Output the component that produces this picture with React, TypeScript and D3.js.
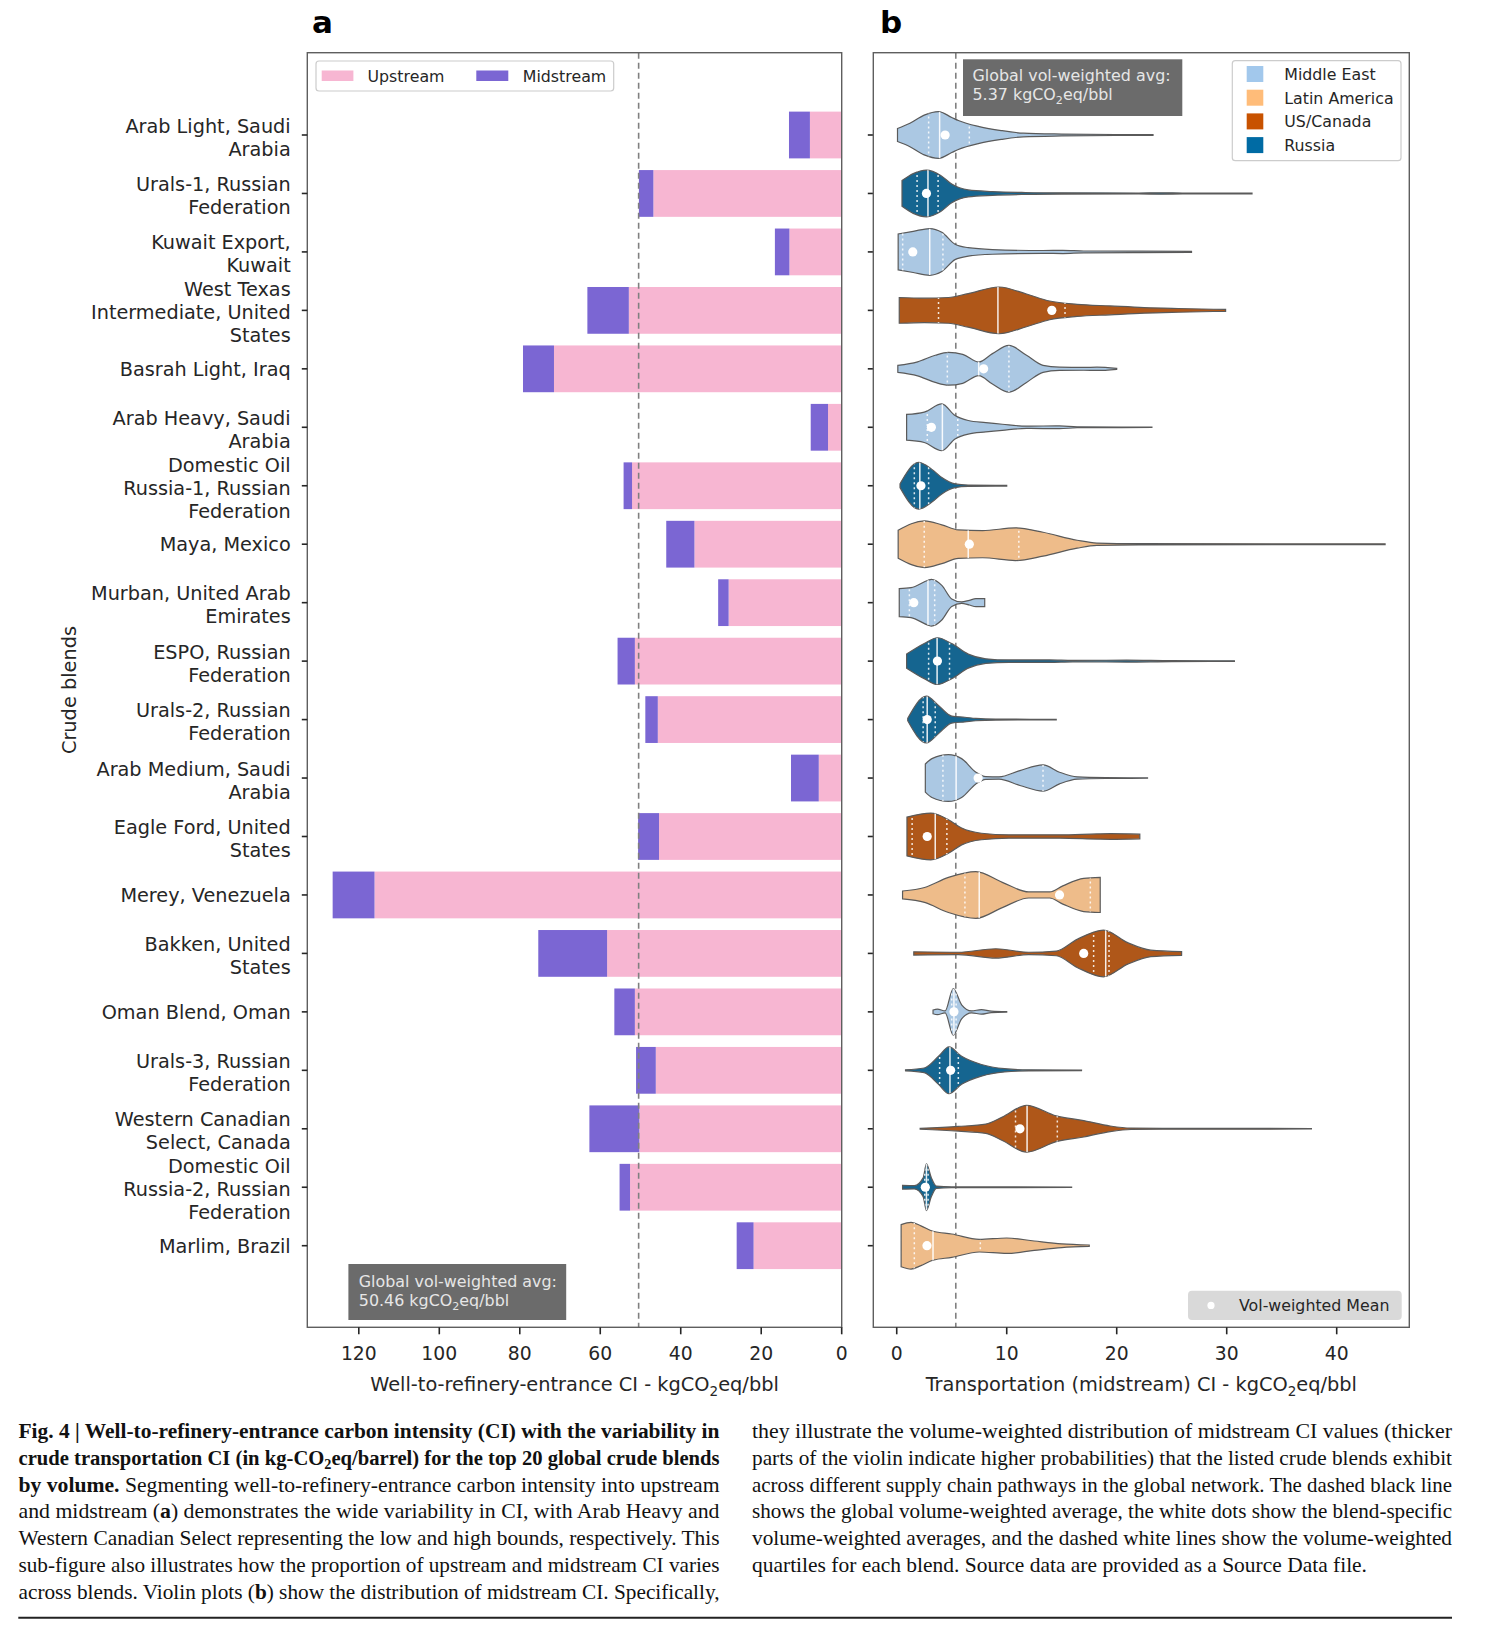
import React from 'react';
import * as d3 from 'd3';

// ---- data ----
const blends = [
  'Arab Light', 'Urals-1', 'Kuwait Export', 'West Texas Intermediate', 'Basrah Light',
  'Arab Heavy', 'Domestic Oil Russia-1', 'Maya', 'Murban', 'ESPO',
  'Urals-2', 'Arab Medium', 'Eagle Ford', 'Merey', 'Bakken',
  'Oman Blend', 'Urals-3', 'Western Canadian Select', 'Domestic Oil Russia-2', 'Marlim',
];

const blendLabels = [
  ['Arab Light, Saudi', 'Arabia'],
  ['Urals-1, Russian', 'Federation'],
  ['Kuwait Export,', 'Kuwait'],
  ['West Texas', 'Intermediate, United', 'States'],
  ['Basrah Light, Iraq'],
  ['Arab Heavy, Saudi', 'Arabia'],
  ['Domestic Oil', 'Russia-1, Russian', 'Federation'],
  ['Maya, Mexico'],
  ['Murban, United Arab', 'Emirates'],
  ['ESPO, Russian', 'Federation'],
  ['Urals-2, Russian', 'Federation'],
  ['Arab Medium, Saudi', 'Arabia'],
  ['Eagle Ford, United', 'States'],
  ['Merey, Venezuela'],
  ['Bakken, United', 'States'],
  ['Oman Blend, Oman'],
  ['Urals-3, Russian', 'Federation'],
  ['Western Canadian', 'Select, Canada'],
  ['Domestic Oil', 'Russia-2, Russian', 'Federation'],
  ['Marlim, Brazil'],
];

// 0 Middle East, 1 Latin America, 2 US/Canada, 3 Russia
const blendRegion = [0, 3, 0, 2, 0, 0, 3, 1, 0, 3, 3, 0, 2, 1, 2, 0, 3, 2, 3, 1];

const upstreamCI = [7.9, 46.8, 13.0, 52.9, 71.5, 3.4, 52.1, 36.6, 28.1, 51.4, 45.7, 5.7, 45.4, 116.1, 58.3, 51.4, 46.2, 50.3, 52.6, 21.9];
const midstreamCI = [5.2, 3.6, 3.6, 10.3, 7.7, 4.3, 2.1, 7.0, 2.6, 4.3, 3.1, 6.9, 5.2, 10.4, 17.1, 5.1, 4.9, 12.4, 2.6, 4.2];

const globalAvgTotal = 50.46;
const globalAvgMidstream = 5.37;

const regionNames = ['Middle East', 'Latin America', 'US/Canada', 'Russia'];
const regionLegendColors = ['#a2c8ec', '#ffbc79', '#c85200', '#006ba4'];
const regionViolinColors = ['#abc8e3', '#eebc8a', '#af5719', '#156590'];

// violin statistics (kgCO2eq/bbl)
const violinQ1 = [2.9, 1.85, 0.54, 3.8, 4.6, 2.78, 1.6, 2.5, 1.15, 2.9, 2.4, 4.2, 1.4, 6.2, 17.9, 5.0, 3.9, 10.8, 2.55, 1.6];
const violinMedian = [3.9, 2.84, 3.0, 9.2, 7.45, 4.15, 2.1, 6.5, 2.84, 3.67, 2.77, 5.4, 3.5, 7.5, 19.0, 5.2, 4.84, 11.85, 2.7, 3.3];
const violinQ3 = [6.6, 3.76, 4.2, 15.3, 10.2, 5.55, 2.9, 11.1, 3.45, 4.8, 3.5, 13.3, 4.56, 17.6, 19.3, 5.4, 5.6, 14.6, 2.85, 7.6];
const violinMean = [4.4, 2.7, 1.46, 14.1, 7.9, 3.15, 2.2, 6.6, 1.55, 3.7, 2.77, 7.4, 2.77, 14.8, 17.0, 5.2, 4.9, 11.2, 2.6, 2.75];

// violin outlines: [CI value, relative half-width]
const violinProfiles: [number, number][][] = [
  [[0.07, 0.28], [1.2, 0.5], [2.5, 0.85], [3.8, 1.0], [5.0, 0.75], [5.6, 0.62], [7.5, 0.36], [9.5, 0.19], [11.5, 0.08], [15, 0.04], [20, 0.02], [23.3, 0.015]],
  [[0.48, 0.55], [1.5, 0.85], [2.7, 1.0], [4.0, 0.77], [5.0, 0.4], [6.5, 0.15], [8.7, 0.08], [11.7, 0.04], [15, 0.025], [22, 0.02], [24, 0.03], [26, 0.02], [32.3, 0.015]],
  [[0.13, 0.77], [1.5, 0.88], [3.0, 1.0], [4.1, 0.84], [5.3, 0.33], [6.5, 0.18], [8.7, 0.1], [13.3, 0.06], [15.1, 0.07], [17, 0.04], [22, 0.03], [26.8, 0.02]],
  [[0.23, 0.55], [2.5, 0.52], [4.7, 0.55], [6.5, 0.72], [9.3, 1.0], [11.8, 0.7], [13.9, 0.4], [16.4, 0.26], [19.4, 0.19], [22.5, 0.12], [25.6, 0.08], [29.9, 0.04]],
  [[0.1, 0.15], [1.9, 0.3], [3.5, 0.58], [4.7, 0.7], [6.0, 0.62], [7.45, 0.29], [8.7, 0.65], [10.2, 1.0], [11.8, 0.58], [13.3, 0.15], [14.8, 0.07], [17, 0.06], [18.2, 0.07], [20, 0.02]],
  [[0.9, 0.55], [2.5, 0.65], [4.1, 1.0], [5.3, 0.5], [6.5, 0.29], [8.1, 0.2], [9.6, 0.13], [11.8, 0.05], [14.8, 0.06], [16.4, 0.02], [23.2, 0.01]],
  [[0.3, 0.08], [1.98, 1.0], [3.2, 0.7], [4.1, 0.35], [5.3, 0.08], [6.5, 0.03], [10, 0.015]],
  [[0.13, 0.6], [2.53, 1.0], [4.1, 0.83], [5.6, 0.61], [7.8, 0.58], [10.8, 0.7], [13.3, 0.51], [16.4, 0.17], [18.2, 0.05], [22, 0.025], [44.4, 0.015]],
  [[0.23, 0.6], [1.3, 0.64], [2.85, 0.96], [3.15, 1.0], [4.1, 0.74], [5.0, 0.16], [5.9, 0.03], [6.6, 0.1], [7.2, 0.17], [8.0, 0.17]],
  [[0.9, 0.3], [2.5, 0.75], [3.7, 1.0], [5.0, 0.75], [6.5, 0.3], [8.1, 0.1], [10.2, 0.05], [13.9, 0.05], [16, 0.03], [20.9, 0.04], [25, 0.02], [30.7, 0.015]],
  [[1.0, 0.05], [2.7, 1.0], [3.8, 0.6], [5.0, 0.15], [6.2, 0.1], [7.2, 0.05], [9, 0.02], [14.5, 0.01]],
  [[2.6, 0.6], [3.2, 0.83], [4.7, 1.0], [5.9, 0.83], [7.2, 0.25], [8.1, 0.06], [9.3, 0.05], [11.2, 0.32], [13.3, 0.56], [14.8, 0.25], [16.4, 0.05], [19, 0.02], [22.8, 0.01]],
  [[0.93, 0.83], [3.1, 1.0], [4.7, 0.72], [5.9, 0.36], [7.7, 0.14], [10.2, 0.07], [14.8, 0.07], [18.2, 0.11], [19.4, 0.12], [22.1, 0.1]],
  [[0.53, 0.17], [2.53, 0.32], [4.7, 0.75], [7.2, 1.0], [9.6, 0.54], [12, 0.13], [13.9, 0.13], [15.1, 0.39], [17, 0.71], [18.5, 0.75]],
  [[1.55, 0.07], [5.6, 0.05], [9.0, 0.2], [12, 0.05], [14.5, 0.1], [16.4, 0.6], [18.8, 1.0], [21, 0.46], [23.1, 0.14], [25.9, 0.08]],
  [[3.3, 0.08], [3.7, 0.12], [4.4, 0.04], [5.14, 1.0], [5.9, 0.3], [6.8, 0.04], [7.7, 0.1], [8.6, 0.03], [10, 0.01]],
  [[0.8, 0.02], [2.5, 0.1], [3.8, 0.6], [4.75, 1.0], [5.9, 0.6], [7.7, 0.25], [9.8, 0.07], [12, 0.02], [16.8, 0.01]],
  [[2.13, 0.02], [5.6, 0.1], [8.1, 0.2], [9.6, 0.5], [11.8, 1.0], [14.5, 0.55], [17, 0.35], [19.4, 0.12], [21.3, 0.03], [26, 0.015], [31.5, 0.02], [37.7, 0.01]],
  [[0.53, 0.08], [1.6, 0.07], [2.4, 0.4], [2.7, 1.0], [3.15, 0.4], [3.6, 0.05], [5, 0.015], [15.9, 0.01]],
  [[0.4, 0.9], [1.3, 1.0], [2.2, 0.85], [3.3, 0.62], [5, 0.5], [7.5, 0.27], [10, 0.33], [12.5, 0.2], [15, 0.08], [17.5, 0.03]],
];

const leftTicks = [120, 100, 80, 60, 40, 20, 0];
const rightTicks = [0, 10, 20, 30, 40];

type Part = { t: string; b?: boolean; sub?: boolean };

const captionLeft: Part[][] = [
  [{ t: 'Fig. 4 | Well-to-refinery-entrance carbon intensity (CI) with the variability in', b: true }],
  [{ t: 'crude transportation CI (in kg-CO', b: true }, { t: '2', b: true, sub: true }, { t: 'eq/barrel) for the top 20 global crude blends', b: true }],
  [{ t: 'by volume.', b: true }, { t: ' Segmenting well-to-refinery-entrance carbon intensity into upstream' }],
  [{ t: 'and midstream (' }, { t: 'a', b: true }, { t: ') demonstrates the wide variability in CI, with Arab Heavy and' }],
  [{ t: 'Western Canadian Select representing the low and high bounds, respectively. This' }],
  [{ t: 'sub-figure also illustrates how the proportion of upstream and midstream CI varies' }],
  [{ t: 'across blends. Violin plots (' }, { t: 'b', b: true }, { t: ') show the distribution of midstream CI. Specifically,' }],
];
const captionRight: Part[][] = [
  [{ t: 'they illustrate the volume-weighted distribution of midstream CI values (thicker' }],
  [{ t: 'parts of the violin indicate higher probabilities) that the listed crude blends exhibit' }],
  [{ t: 'across different supply chain pathways in the global network. The dashed black line' }],
  [{ t: 'shows the global volume-weighted average, the white dots show the blend-specific' }],
  [{ t: 'volume-weighted averages, and the dashed white lines show the volume-weighted' }],
  [{ t: 'quartiles for each blend. Source data are provided as a Source Data file.' }],
];
const captionRightWidths = [700, 700, 700, 700, 700, 615];

// ---- layout ----
const W = 1488;
const H = 1627;
const TOP = 52.7;
const BOTTOM = 1327.3;
const L = { x0: 307.3, x1: 841.7 };
const R = { x0: 873.3, x1: 1409.3 };
const FONT = '"DejaVu Sans", sans-serif';
const SERIF = '"Liberation Serif", serif';
const INK = '#262626';
const FRAME = '#5e5e5e';
const PINK = '#f7b6d2';
const PURPLE = '#7b66d3';

const xL = d3.scaleLinear().domain([132.8, 0]).range([L.x0, L.x1]);
const xR = d3.scaleLinear().domain([-2.13, 46.6]).range([R.x0, R.x1]);
const yPos = d3.scalePoint<string>().domain(blends).range([135, 1245.7]);
const step = yPos.step();
const barH = step * 0.8;
const halfMax = step * 0.4;

const Units = ({ size }: { size: number }) => (
  <>
    <tspan>kgCO</tspan>
    <tspan fontSize={size * 0.7} dy={size * 0.25}>2</tspan>
    <tspan dy={-size * 0.25}>eq/bbl</tspan>
  </>
);

const violinArea = (cy: number) =>
  d3.area<[number, number]>()
    .x(d => xR(d[0]))
    .y0(d => cy - d[1] * halfMax)
    .y1(d => cy + d[1] * halfMax)
    .curve(d3.curveMonotoneX);

const CaptionLine = ({ parts, x, y, len }: { parts: Part[]; x: number; y: number; len: number }) => (
  <text x={x} y={y} textLength={len} lengthAdjust="spacingAndGlyphs">
    {parts.map((p, j) => {
      const prevSub = j > 0 && parts[j - 1].sub;
      return (
        <tspan key={j} fontWeight={p.b ? 'bold' : 'normal'} fontSize={p.sub ? 14 : undefined} dy={p.sub ? 4 : prevSub ? -4 : 0}>{p.t}</tspan>
      );
    })}
  </text>
);

const App: React.FC = () => {
  const labFs = 19.25;
  const numFs = 18.8;
  const axFs = 19.35;
  const legFs = 15.8;
  const boxFs = 15.9;

  return (
    <svg width={W} height={H} style={{ position: 'absolute', left: 0, top: 0, background: '#fff' }} fontFamily={FONT}>
      <defs>
        {blends.map((b, i) => (
          <clipPath id={`vclip${i}`} key={b}>
            <path d={violinArea(yPos(b)!)(violinProfiles[i]) || ''} />
          </clipPath>
        ))}
      </defs>

      {/* panel labels */}
      <text x={312} y={33} fontSize={31} fontWeight="bold" fill="#000">a</text>
      <text x={880} y={33} fontSize={31} fontWeight="bold" fill="#000">b</text>

      {/* ---- panel a ---- */}
      <g>
        {blends.map((b, i) => {
          const cy = yPos(b)!;
          const u = upstreamCI[i];
          const tot = u + midstreamCI[i];
          return (
            <g key={b}>
              <rect x={xL(u)} y={cy - barH / 2} width={xL(0) - xL(u)} height={barH} fill={PINK} />
              <rect x={xL(tot)} y={cy - barH / 2} width={xL(u) - xL(tot)} height={barH} fill={PURPLE} />
            </g>
          );
        })}
        <line x1={xL(globalAvgTotal)} x2={xL(globalAvgTotal)} y1={TOP} y2={BOTTOM} stroke="#808080" strokeWidth={1.6} strokeDasharray="6,4" />
        <rect x={L.x0} y={TOP} width={L.x1 - L.x0} height={BOTTOM - TOP} fill="none" stroke={FRAME} strokeWidth={1.4} />

        {/* y ticks + labels */}
        {blends.map((b, i) => {
          const cy = yPos(b)!;
          const lines = blendLabels[i];
          const n = lines.length;
          const off = n > 1 ? 2 : 0;
          return (
            <g key={b}>
              <line x1={L.x0 - 5.5} x2={L.x0} y1={cy} y2={cy} stroke={INK} strokeWidth={1.6} />
              <text textAnchor="end" fontSize={labFs} fill={INK}>
                {lines.map((ln, k) => (
                  <tspan key={k} x={290.7} y={cy + off + (k - (n - 1) / 2) * 23 + 7}>{ln}</tspan>
                ))}
              </text>
            </g>
          );
        })}

        {/* x axis */}
        {leftTicks.map(t => (
          <g key={t}>
            <line x1={xL(t)} x2={xL(t)} y1={BOTTOM} y2={BOTTOM + 7} stroke={INK} strokeWidth={1.6} />
            <text x={xL(t)} y={1359.5} textAnchor="middle" fontSize={numFs} fill={INK}>{t}</text>
          </g>
        ))}
        <text x={(L.x0 + L.x1) / 2} y={1391} textAnchor="middle" fontSize={axFs} fill={INK}>
          Well-to-refinery-entrance CI - <Units size={axFs} />
        </text>
        <text transform={`translate(76,${(TOP + BOTTOM) / 2}) rotate(-90)`} textAnchor="middle" fontSize={axFs} fill={INK}>Crude blends</text>

        {/* legend */}
        <rect x={316} y={61} width={297.7} height={30} rx={3} fill="#fff" stroke="#cccccc" strokeWidth={1.2} />
        <rect x={321.7} y={70.5} width={31.7} height={10.5} fill={PINK} />
        <text x={367.5} y={81.5} fontSize={legFs} fill={INK}>Upstream</text>
        <rect x={476.3} y={70.5} width={32} height={10.5} fill={PURPLE} />
        <text x={522.8} y={81.5} fontSize={legFs} fill={INK}>Midstream</text>

        {/* global average box */}
        <rect x={348.4} y={1264} width={217.8} height={56} fill="#6b6b6b" />
        <text x={358.8} y={1287} fontSize={boxFs} fill="#e6e6e6">Global vol-weighted avg:</text>
        <text x={358.8} y={1306.3} fontSize={boxFs} fill="#e6e6e6">50.46 <Units size={boxFs} /></text>
      </g>

      {/* ---- panel b ---- */}
      <g>
        <line x1={xR(globalAvgMidstream)} x2={xR(globalAvgMidstream)} y1={TOP} y2={BOTTOM} stroke="#808080" strokeWidth={1.6} strokeDasharray="6,4" />
        {blends.map((b, i) => {
          const cy = yPos(b)!;
          const prof = violinProfiles[i];
          const color = regionViolinColors[blendRegion[i]];
          return (
            <g key={b}>
              <path d={violinArea(cy)(prof) || ''} fill={color} stroke="#5a5a5a" strokeWidth={1.2} />
              <g clipPath={`url(#vclip${i})`}>
                <line x1={xR(violinMedian[i])} x2={xR(violinMedian[i])} y1={cy - halfMax} y2={cy + halfMax} stroke="#ffffff" strokeWidth={1.5} opacity={0.9} />
                {[violinQ1[i], violinQ3[i]].map((q, k) => (
                  <line key={k} x1={xR(q)} x2={xR(q)} y1={cy - halfMax} y2={cy + halfMax} stroke="#ffffff" strokeWidth={1.5} strokeDasharray="2,3" opacity={0.85} />
                ))}
              </g>
              <circle cx={xR(violinMean[i])} cy={cy} r={4.6} fill="#ffffff" />
              <line x1={R.x0 - 5.5} x2={R.x0} y1={cy} y2={cy} stroke={INK} strokeWidth={1.6} />
            </g>
          );
        })}
        <rect x={R.x0} y={TOP} width={R.x1 - R.x0} height={BOTTOM - TOP} fill="none" stroke={FRAME} strokeWidth={1.4} />

        {rightTicks.map(t => (
          <g key={t}>
            <line x1={xR(t)} x2={xR(t)} y1={BOTTOM} y2={BOTTOM + 7} stroke={INK} strokeWidth={1.6} />
            <text x={xR(t)} y={1359.5} textAnchor="middle" fontSize={numFs} fill={INK}>{t}</text>
          </g>
        ))}
        <text x={(R.x0 + R.x1) / 2} y={1391} textAnchor="middle" fontSize={axFs} fill={INK}>
          Transportation (midstream) CI - <Units size={axFs} />
        </text>

        {/* global average box */}
        <rect x={963} y={59.3} width={219.3} height={56.7} fill="#6b6b6b" />
        <text x={972.5} y={80.5} fontSize={boxFs} fill="#e6e6e6">Global vol-weighted avg:</text>
        <text x={972.5} y={99.7} fontSize={boxFs} fill="#e6e6e6">5.37 <Units size={boxFs} /></text>

        {/* region legend */}
        <rect x={1232.3} y={60.7} width={168.7} height={100} rx={3} fill="#fff" stroke="#cccccc" strokeWidth={1.2} />
        {regionNames.map((r, k) => {
          const cy = 74 + k * 23.7;
          return (
            <g key={r}>
              <rect x={1246.7} y={cy - 8} width={16.6} height={16} fill={regionLegendColors[k]} />
              <text x={1284.3} y={cy + 5.8} fontSize={legFs} fill={INK}>{r}</text>
            </g>
          );
        })}

        {/* mean legend */}
        <rect x={1188} y={1290.7} width={213.7} height={29.3} rx={4} fill="#d9d9d9" />
        <circle cx={1211} cy={1305.4} r={3.6} fill="#ffffff" />
        <text x={1239} y={1311.2} fontSize={legFs} fill={INK}>Vol-weighted Mean</text>
      </g>

      {/* ---- caption ---- */}
      <g fontFamily={SERIF} fontSize={20.3} fill="#111">
        {captionLeft.map((parts, k) => (
          <CaptionLine key={k} parts={parts} x={18.5} y={1438 + k * 26.8} len={701} />
        ))}
        {captionRight.map((parts, k) => (
          <CaptionLine key={k} parts={parts} x={752} y={1438 + k * 26.8} len={captionRightWidths[k]} />
        ))}
      </g>
      <line x1={18.3} x2={1452} y1={1617.7} y2={1617.7} stroke="#222" strokeWidth={2} />
    </svg>
  );
};

export default App;
